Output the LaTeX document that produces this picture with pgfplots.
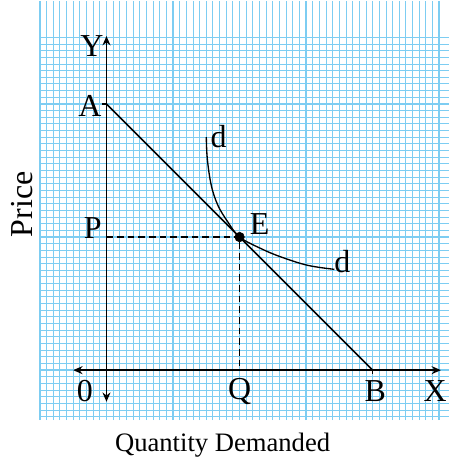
\documentclass[border=0pt]{standalone}
\usepackage{fontspec}
\setmainfont{Liberation Serif}
\usepackage{pgfplots}
\pgfplotsset{compat=1.18}
\usetikzlibrary{arrows.meta}
\definecolor{gridblue}{RGB}{125,205,242}

\begin{document}
\begin{tikzpicture}[lab/.style={font=\fontsize{24}{28}\selectfont}]
  \begin{axis}[
      x=5pt, y=5pt,
      xmin=-10, xmax=51.5,
      ymin=-7.5, ymax=55.5,
      scale only axis,
      axis line style={draw=none},
      xtick={-10,0,...,50}, ytick={-10,0,...,50},
      minor x tick num=9, minor y tick num=9,
      major tick length=0pt, minor tick length=0pt,
      xticklabels={}, yticklabels={},
      grid=both,
      major grid style={gridblue, line width=1.2pt},
      minor grid style={gridblue, line width=0.75pt},
      clip=false,
    ]
    % picture frame
    \path (axis cs:-16,-13.95) rectangle (axis cs:51.5,55.5);

    % axes
    \addplot[black, line width=1.1pt, {Stealth[length=7pt,width=6pt]}-{Stealth[length=7pt,width=6pt]}]
      coordinates {(0,-4.75) (0,50.2)};
    \addplot[black, line width=1.1pt, {Stealth[length=7pt,width=6pt]}-{Stealth[length=7pt,width=6pt]}]
      coordinates {(-5,0) (50.25,0)};

    % demand line AB
    \addplot[black, line width=1.1pt] coordinates {(0,40) (40,0)};
    \addplot[black, line width=1.1pt] coordinates {(-0.7,40) (0,40)};
    \addplot[black, line width=1.1pt] coordinates {(40,0) (40,-0.6)};

    % dashed guides
    \addplot[black, line width=1.1pt, dash pattern=on 5pt off 3pt] coordinates {(0,20) (20,20) (20,0)};

    % curve dd
    \addplot[black, line width=1pt, smooth, tension=0.6] coordinates {
      (15.0,35.0) (15.15,31.75) (15.75,27.75) (16.75,24.75) (18.25,22.25)
      (20,20) (23.25,18.25) (26.25,17.0) (30.25,15.75) (34.25,15.15)
    };

    % point E
    \addplot[black, only marks, mark=*, mark size=3.6pt] coordinates {(20,20)};

    % labels
    \node[lab] at (axis cs:-2.2,48.75) {Y};
    \node[lab] at (axis cs:-2.5,39.75) {A};
    \node[lab] at (axis cs:16.85,35.1) {d};
    \node[lab] at (axis cs:-2.05,21.3) {P};
    \node[lab] at (axis cs:23,21.9) {E};
    \node[lab] at (axis cs:35.45,16.35) {d};
    \node[lab] at (axis cs:-3.25,-3.15) {0};
    \node[lab] at (axis cs:20,-3.15) {Q};
    \node[lab] at (axis cs:40.4,-3.15) {B};
    \node[lab] at (axis cs:49.4,-3.15) {X};
    \node[lab, rotate=90] at (axis cs:-12.7,24.9) {Price};
    \node[font=\fontsize{20}{24}\selectfont] at (axis cs:17.45,-11.25) {Quantity Demanded};
  \end{axis}
\end{tikzpicture}
\end{document}
